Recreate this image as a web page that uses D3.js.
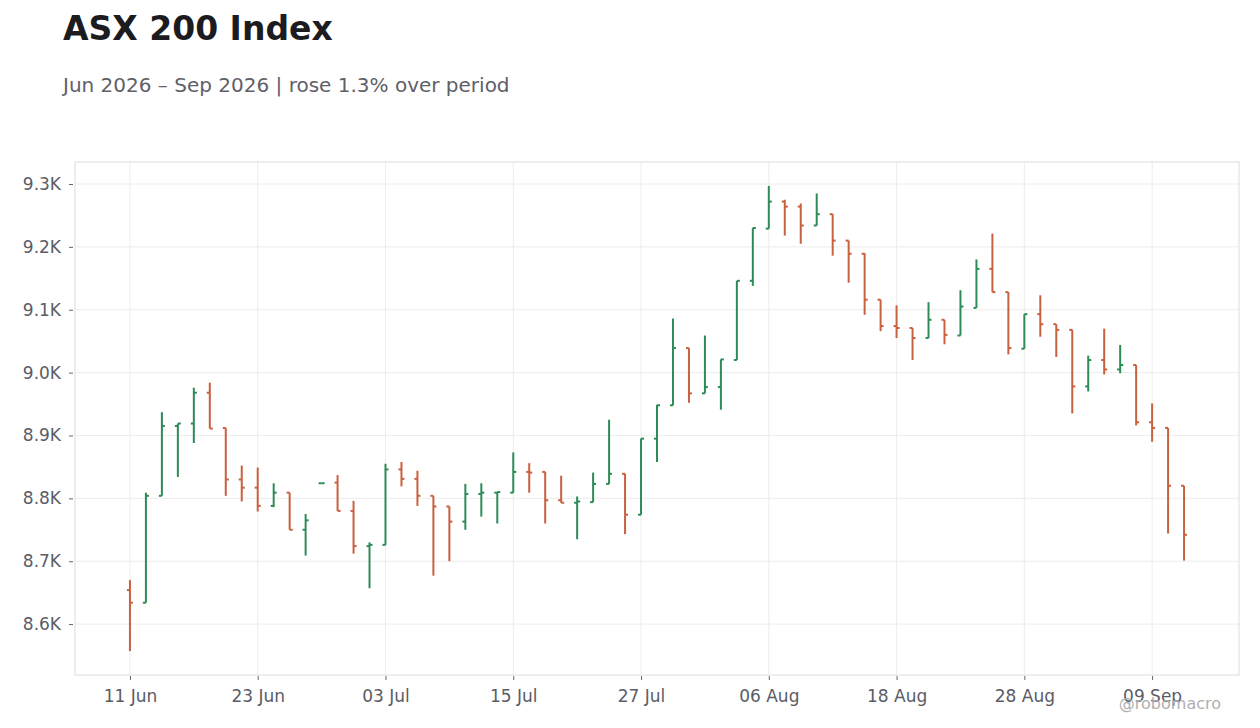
<!DOCTYPE html>
<html>
<head>
<meta charset="utf-8">
<script src="https://cdn.jsdelivr.net/npm/d3@7"></script>
<style>
  body { margin: 0; background: #fff; font-family: "DejaVu Sans", sans-serif; }
</style>
</head>
<body>
<div id="chart"></div>
<script>
// trading days shown on the chart
const dates = [
  "2026-06-11","2026-06-12","2026-06-15","2026-06-16","2026-06-17","2026-06-18","2026-06-19",
  "2026-06-22","2026-06-23","2026-06-24","2026-06-25","2026-06-26","2026-06-29","2026-06-30",
  "2026-07-01","2026-07-02","2026-07-03","2026-07-06","2026-07-07","2026-07-08","2026-07-09",
  "2026-07-10","2026-07-13","2026-07-14","2026-07-15","2026-07-16","2026-07-17","2026-07-20",
  "2026-07-21","2026-07-22","2026-07-23","2026-07-24","2026-07-27","2026-07-28","2026-07-29",
  "2026-07-30","2026-07-31","2026-08-03","2026-08-04","2026-08-05","2026-08-06","2026-08-07",
  "2026-08-10","2026-08-11","2026-08-12","2026-08-13","2026-08-14","2026-08-17","2026-08-18",
  "2026-08-19","2026-08-20","2026-08-21","2026-08-24","2026-08-25","2026-08-26","2026-08-27",
  "2026-08-28","2026-08-31","2026-09-01","2026-09-02","2026-09-03","2026-09-04","2026-09-07",
  "2026-09-08","2026-09-09","2026-09-10","2026-09-11"
];

const opens = [
  8654, 8634, 8804, 8915, 8919, 8968, 8912, 8830, 8817, 8788, 8809, 8750, 8824, 8825,
  8780, 8724, 8726, 8846, 8831, 8804, 8787, 8763, 8807, 8809, 8809, 8842, 8842, 8797,
  8793, 8794, 8823, 8839, 8774, 8895, 8948, 9039, 8967, 8977, 9020, 9146, 9229, 9272,
  9264, 9234, 9252, 9210, 9189, 9116, 9074, 9071, 9055, 9084, 9059, 9103, 9165, 9128,
  9038, 9093, 9077, 9068, 8978, 9020, 9005, 9012, 8921, 8912, 8820
];
const highs = [
  8670, 8809, 8937, 8919, 8976, 8984, 8912, 8852, 8849, 8824, 8809, 8775, 8824, 8837,
  8796, 8730, 8855, 8858, 8844, 8804, 8787, 8823, 8824, 8810, 8873, 8856, 8842, 8836,
  8803, 8841, 8925, 8839, 8895, 8949, 9086, 9039, 9059, 9021, 9146, 9230, 9297, 9275,
  9269, 9285, 9252, 9210, 9190, 9116, 9107, 9071, 9112, 9084, 9131, 9180, 9221, 9128,
  9093, 9123, 9077, 9068, 9027, 9070, 9044, 9012, 8951, 8912, 8820
];
const lows = [
  8557, 8634, 8804, 8834, 8888, 8911, 8804, 8795, 8779, 8786, 8750, 8709, 8824, 8780,
  8712, 8657, 8726, 8819, 8788, 8677, 8700, 8750, 8771, 8760, 8809, 8809, 8760, 8793,
  8735, 8794, 8823, 8743, 8774, 8858, 8948, 8952, 8967, 8941, 9020, 9138, 9229, 9218,
  9205, 9234, 9186, 9143, 9092, 9066, 9055, 9020, 9055, 9045, 9059, 9103, 9128, 9029,
  9038, 9057, 9025, 8935, 8970, 8997, 8999, 8916, 8890, 8744, 8701
];
const closes = [
  8634, 8804, 8915, 8919, 8968, 8911, 8830, 8817, 8788, 8809, 8750, 8765, 8824, 8780,
  8724, 8726, 8846, 8831, 8804, 8787, 8763, 8807, 8809, 8810, 8842, 8841, 8797, 8793,
  8795, 8823, 8839, 8774, 8895, 8948, 9039, 8967, 8977, 9021, 9146, 9230, 9272, 9264,
  9234, 9252, 9210, 9189, 9116, 9074, 9071, 9055, 9084, 9060, 9105, 9165, 9128, 9039,
  9093, 9077, 9068, 8978, 9020, 9005, 9012, 8921, 8912, 8820, 8742
];

const yTicks = [8600, 8700, 8800, 8900, 9000, 9100, 9200, 9300];
const xTickEvery = 8;

const title = "ASX 200 Index";
const subtitle = "Jun 2026 \u2013 Sep 2026 | rose 1.3% over period";

const upColor = "#2e8b57";
const downColor = "#c9603f";

const width = 1260, height = 728;
const plot = { left: 75, right: 1239, top: 162, bottom: 675 };

const bars = dates.map((d, i) => ({
  date: d, open: opens[i], high: highs[i], low: lows[i], close: closes[i]
}));

const svg = d3.select("#chart").append("svg")
  .attr("width", width)
  .attr("height", height);

const x = d3.scalePoint()
  .domain(dates)
  .range([plot.left, plot.right])
  .padding(3.44);

const y = d3.scaleLinear()
  .domain([8519, 9335])
  .range([plot.bottom, plot.top]);

const parse = d3.timeParse("%Y-%m-%d");
const fmtDate = d3.timeFormat("%d %b");
const xTickVals = dates.filter((d, i) => i % xTickEvery === 0);

// grid
svg.append("g")
  .selectAll("line.h")
  .data(yTicks)
  .join("line")
  .attr("x1", plot.left).attr("x2", plot.right)
  .attr("y1", d => y(d)).attr("y2", d => y(d))
  .attr("stroke", "#ececec").attr("stroke-width", 1);

svg.append("g")
  .selectAll("line.v")
  .data(xTickVals)
  .join("line")
  .attr("x1", d => x(d)).attr("x2", d => x(d))
  .attr("y1", plot.top).attr("y2", plot.bottom)
  .attr("stroke", "#ececec").attr("stroke-width", 1);

// frame
svg.append("rect")
  .attr("x", plot.left).attr("y", plot.top)
  .attr("width", plot.right - plot.left)
  .attr("height", plot.bottom - plot.top)
  .attr("fill", "none")
  .attr("stroke", "#dcdcdc");

// axes
const yAxis = svg.append("g")
  .attr("transform", `translate(${plot.left - 2},0)`)
  .call(d3.axisLeft(y).tickValues(yTicks).tickSize(4).tickPadding(8)
    .tickFormat(d => (d / 1000).toFixed(1) + "K"));

const xAxis = svg.append("g")
  .attr("transform", `translate(0,${plot.bottom + 1})`)
  .call(d3.axisBottom(x).tickValues(xTickVals).tickSize(4).tickPadding(10)
    .tickFormat(d => fmtDate(parse(d))));

[yAxis, xAxis].forEach(g => {
  g.select(".domain").remove();
  g.selectAll(".tick line").attr("stroke", "#666");
  g.selectAll(".tick text")
    .attr("fill", "#5a5c66")
    .style("font-family", "DejaVu Sans")
    .style("font-size", "17px");
});

// OHLC bars
const tick = 3;
const g = svg.append("g");
const bar = g.selectAll("g.bar")
  .data(bars)
  .join("g")
  .attr("class", "bar")
  .attr("stroke", d => d.close >= d.open ? upColor : downColor)
  .attr("stroke-width", 2);

bar.append("line")
  .attr("x1", d => x(d.date)).attr("x2", d => x(d.date))
  .attr("y1", d => y(d.high)).attr("y2", d => y(d.low));

bar.append("line")
  .attr("x1", d => x(d.date) - tick).attr("x2", d => x(d.date))
  .attr("y1", d => y(d.open)).attr("y2", d => y(d.open));

bar.append("line")
  .attr("x1", d => x(d.date)).attr("x2", d => x(d.date) + tick)
  .attr("y1", d => y(d.close)).attr("y2", d => y(d.close));

// titles
svg.append("text")
  .attr("x", 63).attr("y", 40)
  .attr("fill", "#1b1b20")
  .style("font-family", "DejaVu Sans")
  .style("font-size", "33px")
  .style("font-weight", "bold")
  .text(title);

svg.append("text")
  .attr("x", 63).attr("y", 92)
  .attr("fill", "#5f6068")
  .style("font-family", "DejaVu Sans")
  .style("font-size", "20px")
  .text(subtitle);

svg.append("text")
  .attr("x", 1221).attr("y", 709)
  .attr("text-anchor", "end")
  .attr("fill", "#b0b0b0")
  .style("font-family", "DejaVu Sans")
  .style("font-size", "16px")
  .text("@robomacro");
</script>
</body>
</html>
